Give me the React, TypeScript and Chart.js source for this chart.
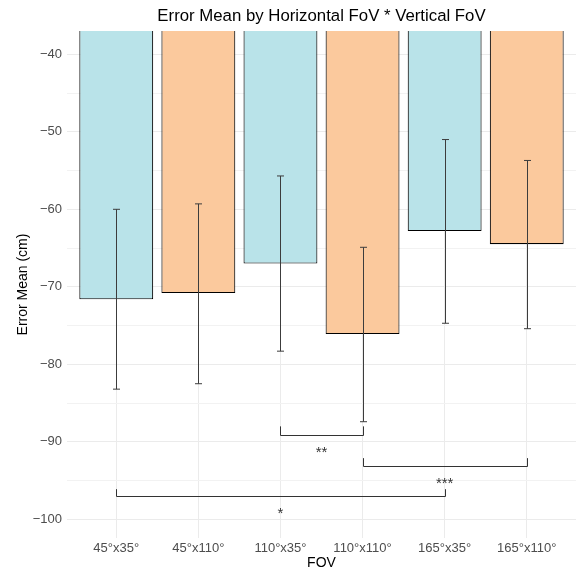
import React, { useEffect, useRef } from 'react';
import { Chart, registerables } from 'chart.js';

Chart.register(...registerables);

const categories = ['45°x35°', '45°x110°', '110°x35°', '110°x110°', '165°x35°', '165°x110°'];
const means = [-71.6, -70.8, -67.0, -76.1, -62.8, -64.5];
const errLow = [-83.2, -82.5, -78.3, -87.4, -74.7, -75.4];
const errHigh = [-60.0, -59.3, -55.7, -64.9, -51.0, -53.7];
const barColors = ['#b9e3e9', '#fbc99d', '#b9e3e9', '#fbc99d', '#b9e3e9', '#fbc99d'];

const yMin = -102.4;
const yMax = -37.0;

const sigFrom = [2, 3, 0];
const sigTo = [3, 5, 4];
const sigLine = [-89.1, -93.1, -97.0];
const sigTip = [-88.0, -92.1, -96.1];
const sigLabels = ['**', '***', '*'];
const sigLabelY = [-91.2, -95.2, -99.1];

const FONT = "'Liberation Sans', Arial, sans-serif";

const overlayPlugin = {
  id: 'overlay',
  afterDatasetsDraw(chart: any) {
    const ctx = chart.ctx;
    const xs = chart.scales.x;
    const ys = chart.scales.y;
    ctx.save();
    // error bars
    ctx.strokeStyle = '#3c3c3c';
    ctx.lineWidth = 1;
    for (let i = 0; i < means.length; i++) {
      const x = Math.round(xs.getPixelForValue(i)) + 0.5;
      const y1 = ys.getPixelForValue(errHigh[i]);
      const y2 = ys.getPixelForValue(errLow[i]);
      ctx.beginPath();
      ctx.moveTo(x, y1);
      ctx.lineTo(x, y2);
      ctx.moveTo(x - 3.5, y1);
      ctx.lineTo(x + 3.5, y1);
      ctx.moveTo(x - 3.5, y2);
      ctx.lineTo(x + 3.5, y2);
      ctx.stroke();
    }
    // significance brackets
    ctx.strokeStyle = '#333333';
    ctx.lineWidth = 1;
    for (let k = 0; k < sigFrom.length; k++) {
      const xa = Math.round(xs.getPixelForValue(sigFrom[k])) + 0.5;
      const xb = Math.round(xs.getPixelForValue(sigTo[k])) + 0.5;
      const yl = Math.round(ys.getPixelForValue(sigLine[k])) + 0.5;
      const yt = ys.getPixelForValue(sigTip[k]);
      ctx.beginPath();
      ctx.moveTo(xa, yt);
      ctx.lineTo(xa, yl);
      ctx.lineTo(xb, yl);
      ctx.lineTo(xb, yt);
      ctx.stroke();
      ctx.fillStyle = '#333333';
      ctx.font = `15px ${FONT}`;
      ctx.textAlign = 'center';
      ctx.textBaseline = 'alphabetic';
      const xm = xs.getPixelForValue((sigFrom[k] + sigTo[k]) / 2);
      ctx.fillText(sigLabels[k], xm, ys.getPixelForValue(sigLabelY[k]) + 6);
    }
    ctx.restore();
  },
  afterDraw(chart: any) {
    const ctx = chart.ctx;
    const ca = chart.chartArea;
    ctx.save();
    ctx.fillStyle = '#000000';
    ctx.font = `16.8px ${FONT}`;
    ctx.textAlign = 'center';
    ctx.textBaseline = 'middle';
    ctx.fillText('Error Mean by Horizontal FoV * Vertical FoV', (ca.left + ca.right) / 2, 16);
    ctx.restore();
  },
};

export default function App() {
  const ref = useRef<HTMLCanvasElement>(null);
  useEffect(() => {
    if (!ref.current) return;
    const chart = new Chart(ref.current, {
      type: 'bar',
      data: {
        datasets: [
          {
            data: means.map((v, i) => ({ x: i, y: v })),
            backgroundColor: barColors,
            borderColor: '#000000',
            borderWidth: 1.1,
            borderSkipped: 'start',
            categoryPercentage: 1,
            barPercentage: 0.9,
          },
        ],
      },
      options: {
        animation: false,
        responsive: false,
        maintainAspectRatio: false,
        layout: { padding: { top: 31, right: 6, left: 0, bottom: 0 } },
        plugins: { legend: { display: false }, tooltip: { enabled: false }, title: { display: false } },
        scales: {
          x: {
            type: 'linear',
            min: -0.6,
            max: 5.6,
            offset: false,
            afterBuildTicks: (scale: any) => {
              scale.ticks = categories.map((_, i) => ({ value: i }));
            },
            afterFit: (scale: any) => {
              scale.height = 35;
            },
            ticks: {
              callback: (v: any) => categories[v] ?? '',
              color: '#4d4d4d',
              font: { family: FONT, size: 13 },
              padding: 3,
              maxRotation: 0,
              autoSkip: false,
            },
            grid: { color: '#ebebeb', drawTicks: false, lineWidth: 1, offset: false },
            border: { display: false },
            title: {
              display: true,
              text: 'FOV',
              color: '#000000',
              font: { family: FONT, size: 14 },
              padding: { top: 0, bottom: 1.6 },
            },
          },
          y: {
            min: yMin,
            max: yMax,
            afterFit: (scale: any) => {
              scale.width = 67;
            },
            ticks: {
              stepSize: 5,
              includeBounds: false,
              callback: (v: any) => (Math.round(v) % 10 === 0 ? String(v).replace('-', '\u2212') : ''),
              color: '#4d4d4d',
              font: { family: FONT, size: 13 },
              padding: 5,
            },
            grid: {
              drawTicks: false,
              color: (c: any) => (c.tick && Math.round(c.tick.value) % 10 === 0 ? '#ebebeb' : '#f2f2f2'),
              lineWidth: 1,
            },
            border: { display: false },
            title: {
              display: true,
              text: 'Error Mean (cm)',
              color: '#000000',
              font: { family: FONT, size: 14 },
              padding: { top: 14.6, bottom: 0 },
            },
          },
        },
      },
      plugins: [overlayPlugin],
    } as any);
    return () => chart.destroy();
  }, []);
  return (
    <div style={{ position: 'absolute', left: 0, top: 0, width: 582, height: 573, background: '#ffffff' }}>
      <canvas ref={ref} width={582} height={573} />
    </div>
  );
}
